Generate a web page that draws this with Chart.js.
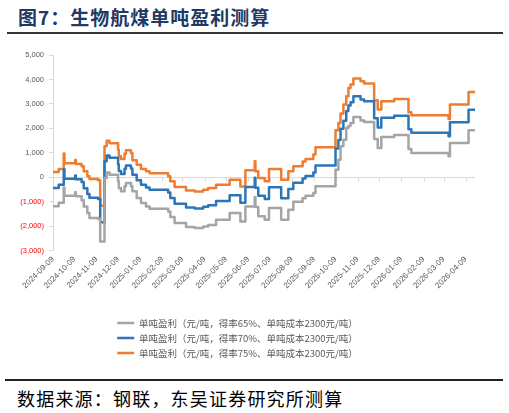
<!DOCTYPE html>
<html><head><meta charset="utf-8">
<script src="https://cdn.jsdelivr.net/npm/chart.js@4.4.1/dist/chart.umd.min.js"></script>
<style>
html,body{margin:0;padding:0;background:#fff;width:509px;height:413px;overflow:hidden;position:relative}
#title{position:absolute;left:18px;top:7px;font:bold 19px/19px "Noto Sans CJK SC";letter-spacing:1px;color:#1F3864;white-space:nowrap}
#rule1{position:absolute;left:7px;top:32px;width:496px;height:2px;background:#333}
#rule2{position:absolute;left:5px;top:379px;width:498px;height:2px;background:#222}
#source{position:absolute;left:17px;top:389px;font:18px/18px "Noto Sans CJK SC";letter-spacing:1.2px;color:#000;white-space:nowrap}
#wrap{position:absolute;left:0;top:40px;width:509px;height:330px}
</style></head><body>
<div id="title">图7：生物航煤单吨盈利测算</div>
<div id="rule1"></div>
<div id="wrap"><canvas id="c"></canvas></div>
<div id="rule2"></div>
<div id="source">数据来源：钢联，东吴证券研究所测算</div>
<script>
const dates = ['2024-09-09','2024-09-17','2024-09-24','2024-09-25','2024-10-10','2024-10-11','2024-10-19','2024-10-22','2024-10-27','2024-10-30',
 '2024-11-11','2024-11-14','2024-11-20','2024-11-23','2024-11-27','2024-12-09','2024-12-10','2024-12-13','2024-12-18','2024-12-20',
 '2024-12-27','2024-12-29','2025-01-04','2025-01-10','2025-01-17','2025-01-22','2025-02-17','2025-02-20','2025-02-26','2025-03-14',
 '2025-03-26','2025-04-07','2025-04-14','2025-04-25','2025-05-14','2025-05-29','2025-06-05','2025-06-18','2025-06-19','2025-06-23',
 '2025-07-02','2025-07-08','2025-07-25','2025-08-04','2025-08-11','2025-08-24','2025-08-28','2025-09-08','2025-09-11','2025-10-09',
 '2025-10-13','2025-10-16','2025-10-20','2025-10-24','2025-10-27','2025-10-30','2025-11-03','2025-11-13','2025-11-18','2025-12-02',
 '2025-12-07','2025-12-12','2025-12-30','2026-01-19','2026-01-23','2026-03-16','2026-03-18','2026-04-13','2026-04-22'];
const gray65 = [-1182,-1040,-420,-755,-614,-777,-941,-1187,-1460,-1664,
 -1705,-2620,-30,200,110,-164,-436,-573,-368,-232,
 -368,-573,-846,-1050,-1187,-1282,-1391,-1623,-1869,-2030,
 -2073,-2005,-1950,-1732,-1460,-1800,-1187,-800,-1214,-1590,
 -1732,-1255,-1732,-1323,-1000,-850,-750,-640,-368,315,
 723,1270,1540,2020,2100,2225,2470,2320,2265,1570,
 1200,1650,1730,1160,995,860,1405,1925,1925];
const blue70 = [-432,-300,330,-55,80,-80,-195,-450,-680,-830,
 -880,-1838,653,897,796,530,259,136,348,485,
 363,107,-115,-304,-419,-507,-623,-841,-1079,-1231,
 -1270,-1201,-1138,-964,-728,-1034,-395,-20,-429,-754,
 -889,-400,-851,-480,-223,-46,54,202,489,1177,
 1528,1986,2309,2714,2934,3065,3312,3183,3105,2417,
 2041,2433,2521,1964,1822,1678,2247,2765,2765];
const orange75 = [218,340,970,575,710,546,450,245,41,-68,
 -123,-1160,1270,1500,1390,1130,860,750,968,1105,
 995,696,518,341,245,164,41,-164,-396,-540,
 -575,-505,-436,-300,-95,-370,290,655,250,-30,
 -160,340,-95,250,450,650,750,930,1230,1924,
 2224,2605,2975,3315,3656,3792,4040,3930,3833,3150,
 2770,3110,3205,2660,2537,2387,2975,3492,3492];
const tickDates = ['2024-09-09','2024-10-09','2024-11-09','2024-12-09','2025-01-09','2025-02-09','2025-03-09','2025-04-09','2025-05-09','2025-06-09',
 '2025-07-09','2025-08-09','2025-09-09','2025-10-09','2025-11-09','2025-12-09','2026-01-09','2026-02-09','2026-03-09','2026-04-09'];
const seriesNames = ['单吨盈利（元/吨，得率65%、单吨成本2300元/吨）','单吨盈利（元/吨，得率70%、单吨成本2300元/吨）','单吨盈利（元/吨，得率75%、单吨成本2300元/吨）'];
const seriesColors = ['#A5A5A5','#2E75B6','#ED7D31'];
const yMin = -3000, yMax = 5000, yStep = 1000;

const base = Date.UTC(2024, 8, 9);
const dayOf = s => { const [y, m, d] = s.split('-').map(Number); return (Date.UTC(y, m - 1, d) - base) / 86400000; };
const toPts = vals => dates.map((s, i) => ({x: dayOf(s), y: vals[i]}));
const tickDays = tickDates.map(dayOf);
const endDay = dayOf(dates[dates.length - 1]);
const fmt = v => Math.abs(v).toLocaleString('en-US');

const zeroTicks = {
  id: 'zeroTicks',
  beforeDatasetsDraw(chart) {
    const {ctx, scales: {x, y}} = chart;
    const y0 = y.getPixelForValue(0);
    ctx.save();
    ctx.strokeStyle = '#D9D9D9';
    ctx.lineWidth = 1;
    x.ticks.forEach(t => {
      const px = Math.round(x.getPixelForValue(t.value)) + 0.5;
      ctx.beginPath(); ctx.moveTo(px, y0); ctx.lineTo(px, y0 + 4); ctx.stroke();
    });
    ctx.restore();
  }
};

const series = [gray65, blue70, orange75];
new Chart(document.getElementById('c'), {
  type: 'line',
  data: {
    datasets: series.map((vals, i) => ({
      label: seriesNames[i], data: toPts(vals),
      borderColor: seriesColors[i], backgroundColor: seriesColors[i],
      borderWidth: 2.5, pointRadius: 0, stepped: true, borderJoinStyle: 'round'
    }))
  },
  options: {
    responsive: true, maintainAspectRatio: false, animation: false,
    layout: {padding: {top: 15, right: 34, bottom: 2.25, left: 0}},
    scales: {
      x: {
        type: 'linear', min: 0, max: endDay,
        afterBuildTicks: s => { s.ticks = tickDays.map(v => ({value: v})); },
        afterFit: s => { s.height = 62; },
        grid: {display: false, drawTicks: false}, border: {display: false},
        ticks: {autoSkip: false, minRotation: 45, maxRotation: 45, padding: 4, color: '#595959',
          font: {family: 'Liberation Sans', size: 8},
          callback: (v, i) => tickDates[i]}
      },
      y: {
        min: yMin, max: yMax,
        afterFit: s => { s.width = 53; },
        grid: {color: c => (c.tick && c.tick.value === 0) ? '#D9D9D9' : 'rgba(0,0,0,0)', tickColor: '#D9D9D9', tickLength: 4, drawTicks: true},
        border: {display: true, color: '#D9D9D9'},
        ticks: {stepSize: yStep, padding: 5, font: {family: 'Liberation Sans', size: 7.5},
          color: c => c.tick.value < 0 ? '#FF0000' : '#595959',
          callback: v => v < 0 ? '(' + fmt(v) + ')' : fmt(v)}
      }
    },
    plugins: {
      legend: {position: 'bottom', labels: {usePointStyle: true, pointStyle: 'line', pointStyleWidth: 17,
        font: {family: 'Noto Sans CJK SC', size: 9.5}, color: '#595959', padding: 5.5,
        sort: (a, b) => a.datasetIndex - b.datasetIndex}},
      tooltip: {enabled: false}
    }
  },
  plugins: [zeroTicks]
});
</script>
</body></html>
